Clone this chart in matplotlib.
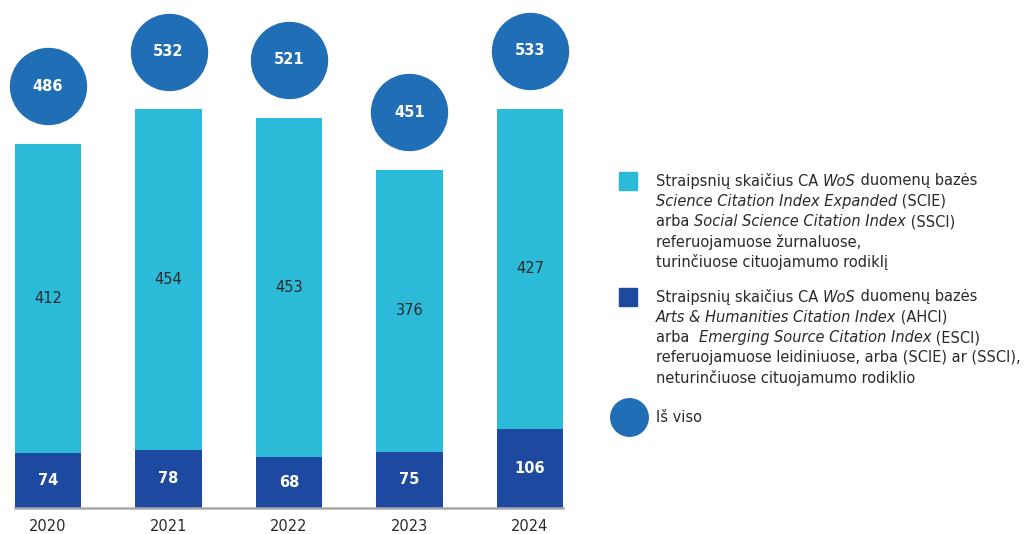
import numpy as np
import matplotlib.pyplot as plt
from matplotlib.lines import Line2D

years = ['2020', '2021', '2022', '2023', '2024']
scie_ssci = [412, 454, 453, 376, 427]
ahci_esci = [74, 78, 68, 75, 106]
totals = [486, 532, 521, 451, 533]

c_light = '#2CBAD9'
c_dark = '#1D49A0'
c_circle = '#206EB6'
c_text = '#2a2a2a'

plt.rcParams['font.family'] = ['DejaVu Sans']

fig = plt.figure(figsize=(10.27, 5.34), dpi=100)
ax = fig.add_axes([15 / 1027, 26 / 534, 548 / 1027, 508 / 534])

x = np.arange(len(years))
w = 0.55
ax.bar(x, ahci_esci, w, color=c_dark, zorder=2)
ax.bar(x, scie_ssci, w, bottom=ahci_esci, color=c_light, zorder=2)

for i in range(len(years)):
    ax.text(x[i], ahci_esci[i] / 2, str(ahci_esci[i]), ha='center', va='center',
            color='white', fontsize=10.5, fontweight='bold')
    ax.text(x[i], ahci_esci[i] + scie_ssci[i] / 2, str(scie_ssci[i]), ha='center',
            va='center', color=c_text, fontsize=10.5)

# total circles sit a fixed gap above each bar
circ_y = np.array(totals) + 77
ax.scatter(x, circ_y, s=3100, color=c_circle, zorder=3, clip_on=False, linewidths=0)
for i in range(len(years)):
    ax.text(x[i], circ_y[i], str(totals[i]), ha='center', va='center',
            color='white', fontsize=10.5, fontweight='bold', zorder=4)

ax.set_xlim(-w / 2, len(years) - 1 + w / 2)
ax.set_ylim(0, 678)
ax.set_xticks(x)
ax.set_xticklabels(years, fontsize=10.5, color=c_text)
ax.tick_params(axis='x', length=0, pad=8)
ax.set_yticks([])
for s in ['top', 'right', 'left']:
    ax.spines[s].set_visible(False)
ax.spines['bottom'].set_color('#a8a8a8')
ax.spines['bottom'].set_linewidth(1.8)
ax.spines['bottom'].set_zorder(5)

# legend, built by hand (mixed italic / normal text)
legend1 = [
    [('Straipsnių skaičius CA ', False), ('WoS', True), (' duomenų bazės', False)],
    [('Science Citation Index Expanded', True), (' (SCIE)', False)],
    [('arba ', False), ('Social Science Citation Index', True), (' (SSCI)', False)],
    [('referuojamuose žurnaluose,', False)],
    [('turinčiuose cituojamumo rodiklį', False)],
]
legend2 = [
    [('Straipsnių skaičius CA ', False), ('WoS', True), (' duomenų bazės', False)],
    [('Arts & Humanities Citation Index', True), (' (AHCI)', False)],
    [('arba  ', False), ('Emerging Source Citation Index', True), (' (ESCI)', False)],
    [('referuojamuose leidiniuose, arba (SCIE) ar (SSCI),', False)],
    [('neturinčiuose cituojamumo rodiklio', False)],
]


def draw_lines(lines, x0, y0, step):
    for k, line in enumerate(lines):
        last = None
        for txt, it in line:
            style = 'italic' if it else 'normal'
            if last is None:
                last = fig.text(x0 / 1027, 1 - (y0 + k * step) / 534, txt, ha='left',
                                va='center', fontsize=10.5, color=c_text, style=style)
            else:
                last = ax.annotate(txt, xy=(1, 0.5), xycoords=last, xytext=(0, 0),
                                   textcoords='offset points', ha='left', va='center',
                                   fontsize=10.5, color=c_text, style=style,
                                   annotation_clip=False)


def legend_block(lines, y0, color):
    fig.add_artist(Line2D([628 / 1027], [1 - y0 / 534], marker='s', color=color,
                          markersize=13.5, linestyle='', transform=fig.transFigure))
    draw_lines(lines, 656, y0, 20.3)


legend_block(legend1, 181, c_light)
legend_block(legend2, 297, c_dark)
fig.add_artist(Line2D([629 / 1027], [1 - 417 / 534], marker='o', color=c_circle,
                      markersize=27, linestyle='', transform=fig.transFigure))
fig.text(656 / 1027, 1 - 417 / 534, 'Iš viso', ha='left', va='center', fontsize=10.5,
         color=c_text)

fig.savefig('out.png', dpi=100)
